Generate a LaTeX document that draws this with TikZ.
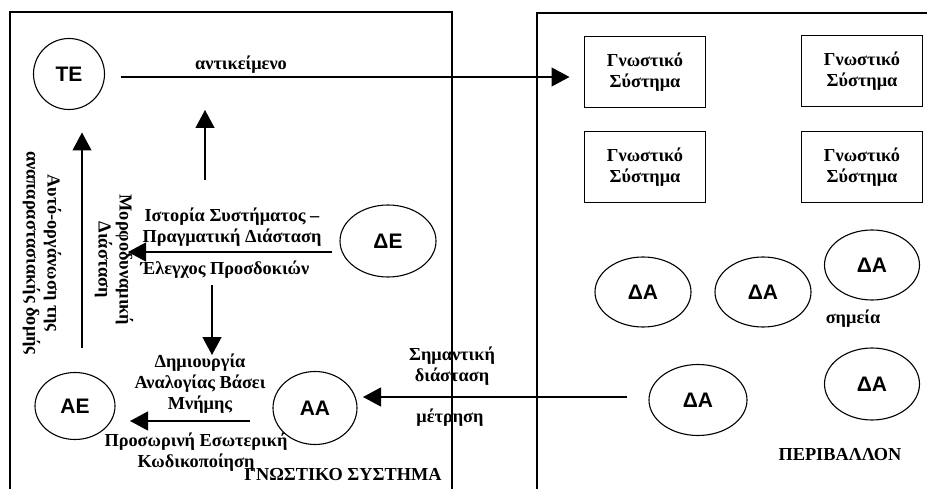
\documentclass[tikz,border=0pt]{standalone}
\usepackage{fontspec}
\setmainfont{Liberation Serif}
\newfontfamily\labelsans{Liberation Sans}
\usetikzlibrary{shapes.geometric,arrows.meta,calc}
\begin{document}
\begin{tikzpicture}[x=1pt,y=-1pt,
  every node/.style={inner sep=0pt, outer sep=0pt},
  txt/.style={font=\bfseries\fontsize{18.3}{21}\selectfont, align=center},
  blob/.style={ellipse, draw, line width=1.1pt, font=\labelsans\bfseries\fontsize{21}{24}\selectfont},
  gbox/.style={draw, line width=1.3pt, minimum width=121pt, minimum height=71pt, txt},
  arr/.style={line width=1.2pt, -{Triangle[length=18pt,width=19pt]}},
  frame/.style={line width=1.4pt}]
\useasboundingbox (0,0) rectangle (927,489);

% the two systems
\draw[frame] (10,489) -- (10,12) -- (452,12) -- (452,489);
\draw[frame] (537,489) -- (537,13) -- (927,13);

% cognitive system: states
\node[blob, minimum width=71pt, minimum height=71pt] (TE) at (69,74) {ΤΕ};
\node[blob, minimum width=80pt, minimum height=67pt] (AE) at (75,406) {ΑΕ};
\node[blob, minimum width=84pt, minimum height=73pt] (AA) at (315,408) {ΑΑ};
\node[blob, minimum width=96pt, minimum height=72pt] (DE) at (388,241) {ΔΕ};

% environment: other cognitive systems
\node[gbox] (gs1) at (645,72) {Γνωστικό\\Σύστημα};
\node[gbox] (gs2) at (862,71) {Γνωστικό\\Σύστημα};
\node[gbox] (gs3) at (645,167) {Γνωστικό\\Σύστημα};
\node[gbox] (gs4) at (862,167) {Γνωστικό\\Σύστημα};

% environment: points
\node[blob, minimum width=96pt, minimum height=70pt] (da1) at (643,292) {ΔΑ};
\node[blob, minimum width=96pt, minimum height=70pt] (da2) at (763,292) {ΔΑ};
\node[blob, minimum width=95pt, minimum height=70pt] (da3) at (872,265) {ΔΑ};
\node[blob, minimum width=95pt, minimum height=72pt] (da4) at (872,384) {ΔΑ};
\node[blob, minimum width=98pt, minimum height=71pt] (da5) at (698,400) {ΔΑ};

% labels
\node[txt] (lobj) at (241,65) {αντικείμενο};
\node[txt] (lhist) at (232,227) {Ιστορία Συστήματος –\\Πραγματική Διάσταση};
\node[txt] (lexp) at (225,270) {Έλεγχος Προσδοκιών};
\node[txt] (lanal) at (200,384) {Δημιουργία\\Αναλογίας Βάσει\\Μνήμης};
\node[txt] (lcode) at (196,452) {Προσωρινή Εσωτερική\\Κωδικοποίηση};
\node[txt] (lsys) at (343,475) {ΓΝΩΣΤΙΚΟ ΣΥΣΤΗΜΑ};
\node[txt] (lsig) at (452,366) {Σημαντική\\διάσταση};
\node[txt] (lmeas) at (450,418) {μέτρηση};
\node[txt] (lpts) at (853,319) {σημεία};
\node[txt] (lenv) at (840,455) {ΠΕΡΙΒΑΛΛΟΝ};
\node[txt, rotate=-90] (lself) at (42,253) {Αυτό-οργάνωση της\\αναπαραστασιακής δομής};
\node[txt, rotate=-90] (lmorph) at (114,260) {Μορφοδυναμική\\Διάσταση};

% free ends of the inner arrows
\coordinate (upbot) at (205,180);
\coordinate (uptop) at (205,110);
\coordinate (dnbot) at (212,355);
\coordinate (dntop) at (212,285);
\coordinate (detip) at (128,252);

% connectors
\draw[arr] ($(TE.east)+(16,3)$) -- ($(gs1.west)+(-15,5)$);
\draw[arr] (upbot) -- (uptop);
\draw[arr] ($(AE.north)+(7,-25)$) -- ($(TE.south)+(13,23)$);
\draw[arr] ($(DE.west)+(-8,11)$) -- (detip);
\draw[arr] (dntop) -- (dnbot);
\draw[arr] ($(AA.west)+(-23,13)$) -- ($(AE.east)+(15,15)$);
\draw[arr] ($(da5.west)+(-22,-3)$) -- ($(AA.east)+(6,-11)$);
\end{tikzpicture}
\end{document}
